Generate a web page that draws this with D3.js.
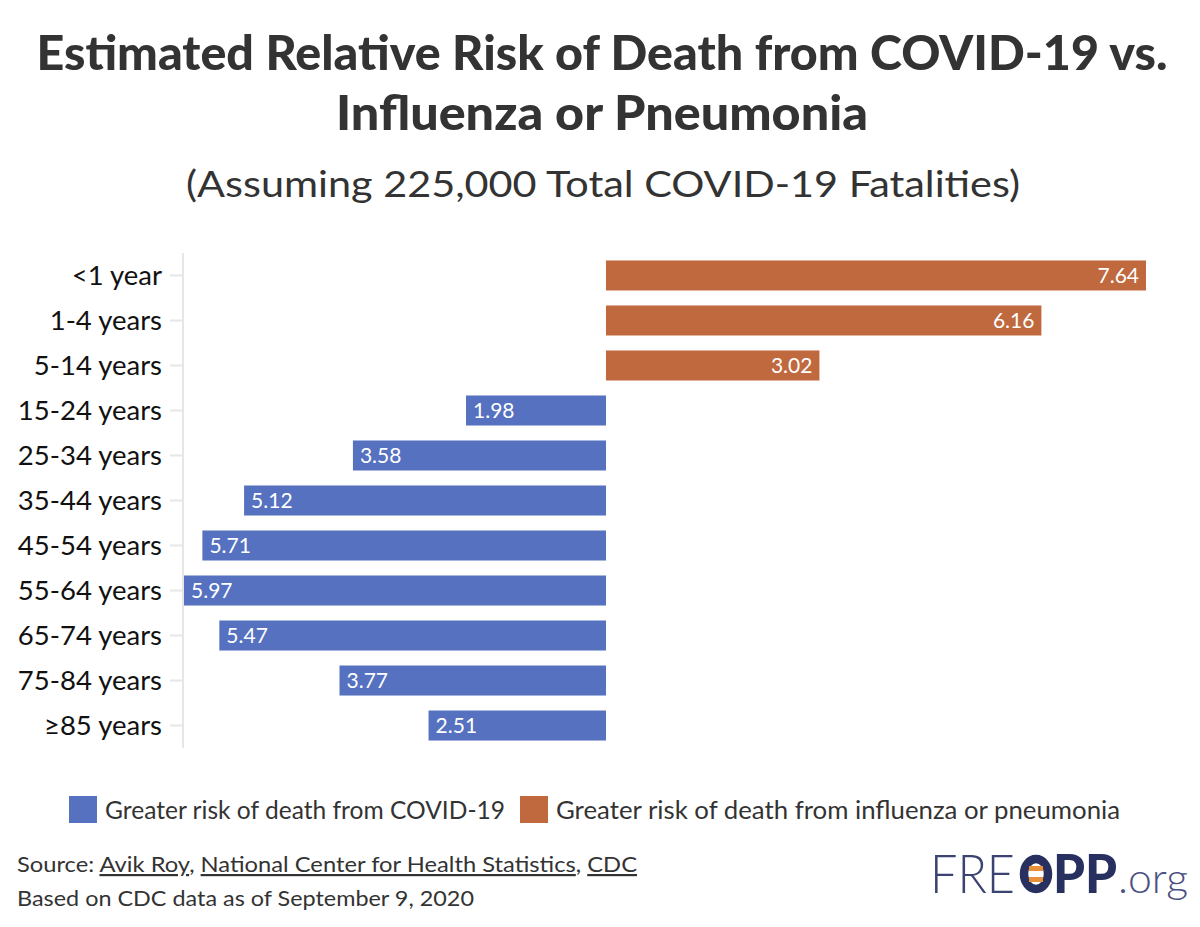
<!DOCTYPE html>
<html>
<head>
<meta charset="utf-8">
<script src="https://cdn.jsdelivr.net/npm/d3@7/dist/d3.min.js"></script>
<style>
  html, body { margin: 0; padding: 0; background: #fff; }
  svg { display: block; }
</style>
</head>
<body>
<svg id="chart" width="1200" height="927"></svg>
<script>
const categories = ["<1 year", "1-4 years", "5-14 years", "15-24 years", "25-34 years", "35-44 years", "45-54 years", "55-64 years", "65-74 years", "75-84 years", "≥85 years"];
// positive = greater risk from influenza/pneumonia, negative = greater risk from COVID-19
const values = [7.64, 6.16, 3.02, -1.98, -3.58, -5.12, -5.71, -5.97, -5.47, -3.77, -2.51];
const seriesNames = ["Greater risk of death from COVID-19", "Greater risk of death from influenza or pneumonia"];
const seriesColors = ["#5571bf", "#c0693f"];

const FONT = "Lato, 'Open Sans', sans-serif";
const svg = d3.select("#chart");

function fitText(sel, w) {
  sel.attr("textLength", w).attr("lengthAdjust", "spacingAndGlyphs");
}

// Titles
svg.append("text").attr("x", 602).attr("y", 70).attr("text-anchor", "middle")
  .attr("font-family", FONT).attr("font-weight", 900).attr("font-size", 48).attr("fill", "#333")
  .text("Estimated Relative Risk of Death from COVID-19 vs.").call(fitText, 1131);
svg.append("text").attr("x", 602).attr("y", 130).attr("text-anchor", "middle")
  .attr("font-family", FONT).attr("font-weight", 900).attr("font-size", 48).attr("fill", "#333")
  .text("Influenza or Pneumonia").call(fitText, 532);
svg.append("text").attr("x", 603).attr("y", 197).attr("text-anchor", "middle")
  .attr("font-family", FONT).attr("font-weight", 400).attr("font-size", 37).attr("fill", "#333")
  .text("(Assuming 225,000 Total COVID-19 Fatalities)").call(fitText, 834);

// Scales
const x = d3.scaleLinear().domain([-5.97, 7.64]).range([184, 1146]);
const y = d3.scaleBand().domain(categories).range([253, 748]).paddingInner(0.333).paddingOuter(0.166);

// Axis
const axis = d3.axisLeft(y).tickSize(13).tickPadding(8);
const gAxis = svg.append("g").attr("transform", "translate(183,0)").call(axis);
gAxis.select(".domain").attr("stroke", "#e6e6e6").attr("stroke-width", 2)
  .attr("d", "M0,253V748");
gAxis.selectAll(".tick line").attr("stroke", "#e6e6e6").attr("stroke-width", 2);
gAxis.selectAll(".tick text").attr("font-family", FONT).attr("font-size", 27.5).attr("fill", "#111")
  .attr("dy", "0.36em");

// Bars
const data = categories.map((c, i) => ({ c, v: values[i] }));
svg.append("g").selectAll("rect").data(data).join("rect")
  .attr("x", d => x(Math.min(0, d.v)))
  .attr("y", d => y(d.c))
  .attr("width", d => Math.abs(x(d.v) - x(0)))
  .attr("height", y.bandwidth())
  .attr("fill", d => d.v < 0 ? seriesColors[0] : seriesColors[1]);

// Value labels
svg.append("g").selectAll("text").data(data).join("text")
  .attr("x", d => d.v < 0 ? x(d.v) + 7 : x(d.v) - 7)
  .attr("y", d => y(d.c) + y.bandwidth() / 2)
  .attr("dy", "0.36em")
  .attr("text-anchor", d => d.v < 0 ? "start" : "end")
  .attr("font-family", FONT).attr("font-size", 21).attr("fill", "#fff")
  .text(d => Math.abs(d.v).toFixed(2));

// Legend
const legendX = [69, 520];
const legendW = [400, 564];
const lg = svg.append("g").selectAll("g").data(seriesNames).join("g")
  .attr("transform", (d, i) => `translate(${legendX[i]},796)`);
lg.append("rect").attr("width", 28).attr("height", 27).attr("fill", (d, i) => seriesColors[i]);
lg.append("text").attr("x", 36).attr("y", 23)
  .attr("font-family", FONT).attr("font-size", 25).attr("fill", "#333")
  .text(d => d).each(function (d, i) { d3.select(this).call(fitText, legendW[i]); });

// Source
const src = svg.append("text").attr("x", 17).attr("y", 872)
  .attr("font-family", FONT).attr("font-size", 22).attr("fill", "#333");
src.append("tspan").text("Source: ");
src.append("tspan").attr("text-decoration", "underline").text("Avik Roy");
src.append("tspan").text(", ");
src.append("tspan").attr("text-decoration", "underline").text("National Center for Health Statistics");
src.append("tspan").text(", ");
src.append("tspan").attr("text-decoration", "underline").text("CDC");
src.call(fitText, 620);
svg.append("text").attr("x", 17).attr("y", 906)
  .attr("font-family", FONT).attr("font-size", 22).attr("fill", "#333")
  .text("Based on CDC data as of September 9, 2020").call(fitText, 457);

// Logo
const navy = "#27305f";
const logo = svg.append("g");
logo.append("text").attr("x", 930).attr("y", 893).attr("font-family", FONT).attr("font-weight", 300)
  .attr("font-size", 53).attr("fill", "#3b4372").text("FRE").call(fitText, 85);
logo.append("ellipse").attr("cx", 1036).attr("cy", 874).attr("rx", 12).attr("ry", 15)
  .attr("fill", "none").attr("stroke", navy).attr("stroke-width", 8.5);
logo.append("rect").attr("x", 1029).attr("y", 866).attr("width", 14).attr("height", 5).attr("fill", "#e8913a");
logo.append("rect").attr("x", 1029).attr("y", 877).attr("width", 14).attr("height", 5).attr("fill", "#e8913a");
logo.append("text").attr("x", 1053).attr("y", 893).attr("font-family", FONT).attr("font-weight", 900)
  .attr("font-size", 53).attr("fill", navy).text("PP").call(fitText, 64);
logo.append("text").attr("x", 1118).attr("y", 893).attr("font-family", FONT).attr("font-weight", 300)
  .attr("font-size", 42).attr("fill", "#4a5180").text(".org").call(fitText, 70);
</script>
</body>
</html>
